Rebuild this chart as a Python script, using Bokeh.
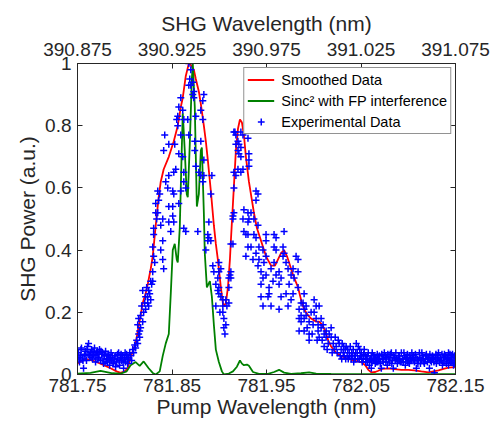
from bokeh.plotting import figure
from bokeh.models import LinearAxis, Range1d, FixedTicker, Legend, LegendItem
from bokeh.embed import file_html
from bokeh.resources import INLINE

# ---------------- data ----------------
pump_ticks = [781.75, 781.85, 781.95, 782.05, 782.15]
pump_tick_labels = ["781.75", "781.85", "781.95", "782.05", "782.15"]
shg_ticks = [390.875, 390.925, 390.975, 391.025, 391.075]
shg_tick_labels = ["390.875", "390.925", "390.975", "391.025", "391.075"]
power_ticks = [0, 0.2, 0.4, 0.6, 0.8, 1]
power_tick_labels = ["0", "0.2", "0.4", "0.6", "0.8", "1"]

# Smoothed data (red)
smooth_wl = [781.7500, 781.7542, 781.7585, 781.7659, 781.7744, 781.7850, 781.7914, 781.7956, 781.7999, 781.8031,
             781.8062, 781.8115, 781.8168, 781.8190, 781.8221, 781.8243, 781.8275, 781.8296, 781.8328, 781.8359,
             781.8381, 781.8412, 781.8466, 781.8519, 781.8561, 781.8593, 781.8614, 781.8646, 781.8678, 781.8699,
             781.8731, 781.8752, 781.8784, 781.8805, 781.8837, 781.8858, 781.8879, 781.8911, 781.8943, 781.8964,
             781.8985, 781.9017, 781.9038, 781.9049, 781.9070, 781.9092, 781.9113, 781.9123, 781.9145, 781.9176,
             781.9198, 781.9219, 781.9240, 781.9261, 781.9282, 781.9314, 781.9346, 781.9367, 781.9399, 781.9442,
             781.9495, 781.9548, 781.9590, 781.9622, 781.9654, 781.9686, 781.9717, 781.9739, 781.9781, 781.9834,
             781.9866, 781.9898, 781.9940, 781.9972, 782.0025, 782.0057, 782.0089, 782.0121, 782.0153, 782.0184,
             782.0237, 782.0290, 782.0365, 782.0428, 782.0503, 782.0545, 782.0577, 782.0609, 782.0651, 782.0683,
             782.0725, 782.0789, 782.0853, 782.0927, 782.1001, 782.1065, 782.1139, 782.1214, 782.1267, 782.1320,
             782.1373, 782.1426, 782.1500]
smooth_pw = [0.035, 0.045, 0.05, 0.045, 0.035, 0.02, 0.01, 0.005, 0.01, 0.02,
             0.055, 0.10, 0.19, 0.23, 0.26, 0.29, 0.34, 0.38, 0.48, 0.57,
             0.62, 0.66, 0.70, 0.75, 0.80, 0.86, 0.89, 0.96, 1.0, 0.995,
             0.98, 0.95, 0.91, 0.87, 0.80, 0.75, 0.69, 0.59, 0.48, 0.42,
             0.37, 0.28, 0.23, 0.22, 0.23, 0.28, 0.37, 0.43, 0.55, 0.72,
             0.79, 0.82, 0.81, 0.77, 0.70, 0.62, 0.56, 0.52, 0.47, 0.43,
             0.38, 0.35, 0.35, 0.37, 0.39, 0.40, 0.38, 0.36, 0.32, 0.28,
             0.24, 0.21, 0.19, 0.18, 0.17, 0.17, 0.16, 0.14, 0.11, 0.09,
             0.07, 0.06, 0.05, 0.045, 0.04, 0.03, 0.015, 0.007, 0.008, 0.012,
             0.018, 0.02, 0.017, 0.015, 0.015, 0.013, 0.01, 0.007, 0.01, 0.013,
             0.018, 0.022, 0.024]

# Sinc^2 with FP interference (green)
sinc_wl = [781.7500, 781.7638, 781.7744, 781.7808, 781.7871, 781.7956, 781.8020, 781.8062, 781.8115, 781.8158,
           781.8200, 781.8253, 781.8296, 781.8328, 781.8370, 781.8402, 781.8434, 781.8466, 781.8487, 781.8508,
           781.8529, 781.8550, 781.8561, 781.8582, 781.8603, 781.8614, 781.8635, 781.8656, 781.8667, 781.8688,
           781.8710, 781.8720, 781.8741, 781.8763, 781.8784, 781.8805, 781.8816, 781.8837, 781.8847, 781.8869,
           781.8901, 781.8922, 781.8943, 781.8964, 781.8996, 781.9028, 781.9049, 781.9102, 781.9145, 781.9187,
           781.9219, 781.9240, 781.9261, 781.9293, 781.9314, 781.9357, 781.9420, 781.9516, 781.9580, 781.9633,
           781.9686, 781.9760, 781.9866, 781.9951, 782.0025, 782.0184, 782.0503, 782.0927, 782.1500]
sinc_pw = [0.003, 0.005, 0.012, 0.008, 0.004, 0.003, 0.01, 0.03, 0.04, 0.028,
           0.042, 0.02, 0.005, 0.0, 0.01, 0.06, 0.10, 0.13, 0.26, 0.40,
           0.42, 0.37, 0.36, 0.47, 0.72, 0.84, 0.72, 0.58, 0.57, 0.74,
           0.95, 1.0, 0.86, 0.54, 0.58, 0.72, 0.73, 0.52, 0.39, 0.28,
           0.30, 0.25, 0.16, 0.08, 0.04, 0.01, 0.0, 0.003, 0.01, 0.025,
           0.045, 0.035, 0.03, 0.032, 0.028, 0.008, 0.002, 0.002, 0.008, 0.015,
           0.006, 0.002, 0.004, 0.007, 0.003, 0.002, 0.001, 0.001, 0.001]

# Experimental data (blue +), read region by region
exp_wl_baseline = [781.7500, 781.7511, 781.7521, 781.7532, 781.7542, 781.7553, 781.7564, 781.7574, 781.7585, 781.7595,
                   781.7606, 781.7617, 781.7627, 781.7638, 781.7649, 781.7659, 781.7670, 781.7680, 781.7691, 781.7702,
                   781.7712, 781.7723, 781.7733, 781.7744, 781.7755, 781.7765, 781.7776, 781.7786, 781.7797, 781.7808,
                   781.7818, 781.7829, 781.7840, 781.7850, 781.7861, 781.7871, 781.7882, 781.7893, 781.7903, 781.7914,
                   781.7924, 781.7935, 781.7946, 781.7956, 781.7967, 781.7977, 781.7988, 781.7999, 781.8009, 781.8020,
                   781.8031, 781.8041, 781.8052, 781.8062, 781.8073, 781.8084, 781.8094, 781.8105, 781.8115, 781.8126,
                   781.8137, 781.8147, 781.8158, 781.8168,
                   781.7516, 781.7537, 781.7558, 781.7580, 781.7601, 781.7622, 781.7643, 781.7664, 781.7686, 781.7707,
                   781.7728, 781.7749, 781.7770, 781.7792, 781.7813, 781.7834, 781.7855, 781.7877, 781.7898, 781.7919,
                   781.7940, 781.7961, 781.7983, 781.8004, 781.8025]
exp_pw_baseline = [0.05, 0.07, 0.04, 0.06, 0.085, 0.05, 0.02, 0.065, 0.075, 0.045,
                   0.09, 0.10, 0.06, 0.07, 0.08, 0.05, 0.065, 0.085, 0.04, 0.07,
                   0.075, 0.055, 0.08, 0.045, 0.065, 0.07, 0.035, 0.06, 0.075, 0.05,
                   0.04, 0.065, 0.03, 0.055, 0.045, 0.06, 0.035, 0.05, 0.025, 0.04,
                   0.065, 0.07, 0.03, 0.055, 0.045, 0.06, 0.02, 0.05, 0.04, 0.065,
                   0.035, 0.05, 0.07, 0.06, 0.045, 0.08, 0.07, 0.095, 0.085, 0.11,
                   0.10, 0.13, 0.12, 0.15,
                   0.055, 0.08, 0.045, 0.06, 0.08, 0.065, 0.055, 0.075, 0.06, 0.05,
                   0.065, 0.075, 0.05, 0.04, 0.06, 0.05, 0.07, 0.04, 0.06, 0.05,
                   0.045, 0.065, 0.04, 0.07, 0.055]

exp_wl_main = [781.8137, 781.8147, 781.8158, 781.8168, 781.8179, 781.8190, 781.8190, 781.8200, 781.8211, 781.8221,
               781.8221, 781.8232, 781.8243, 781.8243, 781.8253, 781.8253, 781.8264, 781.8275, 781.8275, 781.8285,
               781.8296, 781.8296, 781.8296, 781.8306, 781.8306, 781.8306, 781.8317, 781.8328, 781.8328, 781.8338,
               781.8349, 781.8349, 781.8359, 781.8370, 781.8381, 781.8381, 781.8402, 781.8402, 781.8402, 781.8412,
               781.8412, 781.8423, 781.8434, 781.8455, 781.8466, 781.8466, 781.8466, 781.8466, 781.8487, 781.8508,
               781.8508, 781.8508, 781.8519, 781.8519, 781.8519, 781.8529, 781.8540, 781.8550, 781.8561, 781.8561,
               781.8572, 781.8572, 781.8572, 781.8593, 781.8593, 781.8593, 781.8614, 781.8614, 781.8625, 781.8625,
               781.8625, 781.8625, 781.8646, 781.8646, 781.8667, 781.8678, 781.8678, 781.8678, 781.8688, 781.8699,
               781.8699, 781.8720, 781.8720, 781.8731, 781.8731, 781.8741, 781.8741, 781.8752, 781.8752, 781.8773,
               781.8784, 781.8805, 781.8805, 781.8805, 781.8826, 781.8826, 781.8826, 781.8837, 781.8837, 781.8837,
               781.8858, 781.8879, 781.8879, 781.8890, 781.8890, 781.8911, 781.8911, 781.8922, 781.8932, 781.8943,
               781.8964, 781.8964, 781.8985, 781.8985, 781.8996, 781.8996, 781.8996, 781.8996, 781.9007, 781.9017,
               781.9017, 781.9038, 781.9038, 781.9038, 781.9049, 781.9049, 781.9060, 781.9070, 781.9070, 781.9081,
               781.9102, 781.9102, 781.9102, 781.9113]
exp_pw_main = [0.16, 0.18, 0.14, 0.19, 0.22, 0.17, 0.27, 0.20, 0.23, 0.25,
               0.21, 0.28, 0.23, 0.25, 0.22, 0.27, 0.26, 0.24, 0.30, 0.29,
               0.33, 0.30, 0.41, 0.38, 0.45, 0.47, 0.36, 0.52, 0.55, 0.50,
               0.52, 0.59, 0.56, 0.58, 0.40, 0.48, 0.50, 0.43, 0.37, 0.34,
               0.72, 0.77, 0.62, 0.60, 0.64, 0.74, 0.54, 0.49, 0.46, 0.54,
               0.51, 0.59, 0.58, 0.65, 0.49, 0.74, 0.66, 0.82, 0.83, 0.80,
               0.86, 0.71, 0.55, 0.89, 0.77, 0.59, 0.85, 0.70, 0.82, 0.65,
               0.62, 0.47, 0.46, 0.60, 0.82, 0.93, 0.77, 1.0, 0.95, 0.98,
               0.93, 0.94, 0.90, 0.91, 0.89, 0.75, 0.72, 0.83, 0.67, 0.46,
               0.65, 0.85, 0.75, 0.64, 0.88, 0.82, 0.62, 0.90, 0.69, 0.64,
               0.40, 0.45, 0.43, 0.49, 0.44, 0.58, 0.43, 0.64, 0.35, 0.33,
               0.22, 0.29, 0.31, 0.27, 0.36, 0.28, 0.33, 0.26, 0.20, 0.34,
               0.25, 0.24, 0.22, 0.20, 0.18, 0.15, 0.13, 0.24, 0.16, 0.22,
               0.28, 0.23, 0.31, 0.32]

exp_wl_second = [781.9123, 781.9123, 781.9123, 781.9145, 781.9145, 781.9145, 781.9155, 781.9155, 781.9155, 781.9155,
                 781.9166, 781.9176, 781.9176, 781.9176, 781.9198, 781.9198, 781.9198, 781.9208, 781.9208, 781.9229,
                 781.9229, 781.9229, 781.9229, 781.9251, 781.9251, 781.9251, 781.9261, 781.9261, 781.9282, 781.9282,
                 781.9304, 781.9304, 781.9304, 781.9304, 781.9304, 781.9314, 781.9314, 781.9314, 781.9314, 781.9336,
                 781.9336, 781.9357, 781.9367, 781.9367, 781.9389, 781.9389, 781.9389, 781.9389, 781.9410, 781.9410,
                 781.9410, 781.9420, 781.9420, 781.9442, 781.9442, 781.9442, 781.9463, 781.9463, 781.9463, 781.9473,
                 781.9495, 781.9495, 781.9495, 781.9495, 781.9516, 781.9527, 781.9527, 781.9548, 781.9548, 781.9569,
                 781.9580, 781.9580, 781.9580, 781.9601, 781.9601, 781.9601, 781.9633, 781.9633, 781.9633, 781.9654,
                 781.9654, 781.9675, 781.9675, 781.9686, 781.9686, 781.9707, 781.9707, 781.9728, 781.9728, 781.9739,
                 781.9760, 781.9760, 781.9781, 781.9781, 781.9792, 781.9813, 781.9834, 781.9834, 781.9834, 781.9845,
                 781.9845, 781.9845, 781.9866, 781.9866, 781.9866]
exp_pw_second = [0.31, 0.42, 0.33, 0.42, 0.51, 0.50, 0.52, 0.60, 0.65, 0.78,
                 0.78, 0.77, 0.74, 0.64, 0.75, 0.72, 0.66, 0.74, 0.71, 0.78,
                 0.73, 0.70, 0.65, 0.77, 0.66, 0.50, 0.53, 0.46, 0.45, 0.38,
                 0.76, 0.52, 0.49, 0.45, 0.41, 0.71, 0.69, 0.67, 0.50, 0.52,
                 0.41, 0.37, 0.50, 0.45, 0.59, 0.56, 0.44, 0.39, 0.58, 0.48,
                 0.35, 0.41, 0.37, 0.33, 0.29, 0.25, 0.40, 0.31, 0.22, 0.36,
                 0.45, 0.43, 0.38, 0.32, 0.25, 0.28, 0.26, 0.34, 0.22, 0.30,
                 0.45, 0.41, 0.36, 0.44, 0.40, 0.32, 0.33, 0.29, 0.21, 0.31,
                 0.25, 0.41, 0.38, 0.46, 0.39, 0.36, 0.26, 0.34, 0.22, 0.29,
                 0.32, 0.24, 0.34, 0.26, 0.31, 0.38, 0.37, 0.33, 0.28, 0.21,
                 0.18, 0.14, 0.19, 0.17, 0.23]

exp_wl_tail = [781.9887, 781.9898, 781.9898, 781.9898, 781.9898, 781.9919, 781.9919, 781.9930, 781.9951, 781.9951,
               781.9951, 781.9972, 781.9983, 781.9993, 782.0004, 782.0004, 782.0025, 782.0025, 782.0036, 782.0046,
               782.0046, 782.0057, 782.0057, 782.0078, 782.0078, 782.0089, 782.0099, 782.0110, 782.0110, 782.0131,
               782.0131, 782.0142, 782.0153, 782.0163, 782.0184, 782.0184, 782.0195, 782.0206, 782.0216, 782.0227,
               782.0237, 782.0248, 782.0259, 782.0269, 782.0280, 782.0290, 782.0301, 782.0312, 782.0322, 782.0333,
               782.0343, 782.0354, 782.0365, 782.0375, 782.0386, 782.0397, 782.0407, 782.0418, 782.0428, 782.0439,
               782.0450, 782.0460, 782.0471, 782.0481, 782.0492, 782.0503, 782.0513, 782.0524, 782.0534, 782.0545,
               782.0556, 782.0566, 782.0577, 782.0588, 782.0598, 782.0609, 782.0609, 782.0619, 782.0630, 782.0641,
               782.0651, 782.0662, 782.0672, 782.0683, 782.0694, 782.0704, 782.0715, 782.0725, 782.0736, 782.0747,
               782.0757, 782.0768, 782.0778, 782.0789, 782.0800, 782.0810, 782.0821, 782.0832, 782.0842, 782.0853,
               782.0863, 782.0874, 782.0885, 782.0895, 782.0906, 782.0916, 782.0927, 782.0938, 782.0948, 782.0959,
               782.0969, 782.0980, 782.0991, 782.1001, 782.1012, 782.1023, 782.1033, 782.1044, 782.1054, 782.1065,
               782.1076, 782.1086, 782.1097, 782.1107, 782.1118, 782.1129, 782.1139, 782.1150, 782.1160, 782.1171,
               782.1182, 782.1192, 782.1203, 782.1214, 782.1224, 782.1235, 782.1245, 782.1256, 782.1267, 782.1277,
               782.1288, 782.1298, 782.1309, 782.1320, 782.1330, 782.1341, 782.1351, 782.1362, 782.1373, 782.1383,
               782.1394, 782.1404, 782.1415, 782.1426, 782.1426, 782.1436, 782.1447, 782.1458, 782.1458, 782.1468,
               782.1479, 782.1489, 782.1489, 782.1500,
               782.0296, 782.0317, 782.0338, 782.0359, 782.0381, 782.0402, 782.0423, 782.0444, 782.0466, 782.0487,
               782.0508, 782.0529, 782.0550, 782.0572, 782.0593, 782.0614, 782.0635, 782.0656, 782.0678, 782.0699,
               782.0720, 782.0741, 782.0763, 782.0784, 782.0805, 782.0826, 782.0848, 782.0869, 782.0890, 782.0911,
               782.0932, 782.0954, 782.0975, 782.0996, 782.1017, 782.1038, 782.1060, 782.1081, 782.1102, 782.1123,
               782.1144, 782.1166, 782.1187, 782.1208, 782.1229, 782.1251, 782.1272, 782.1293, 782.1314, 782.1336,
               782.1357, 782.1378, 782.1399, 782.1420, 782.1442, 782.1463, 782.1484]
exp_pw_tail = [0.23, 0.18, 0.26, 0.21, 0.14, 0.22, 0.19, 0.15, 0.17, 0.13,
               0.11, 0.20, 0.13, 0.16, 0.24, 0.20, 0.22, 0.18, 0.11, 0.16,
               0.14, 0.22, 0.12, 0.18, 0.15, 0.11, 0.16, 0.13, 0.09, 0.12,
               0.14, 0.08, 0.10, 0.13, 0.15, 0.12, 0.07, 0.10, 0.08, 0.12,
               0.09, 0.07, 0.11, 0.10, 0.06, 0.08, 0.10, 0.07, 0.06, 0.08,
               0.09, 0.06, 0.05, 0.07, 0.09, 0.05, 0.06, 0.08, 0.06, 0.05,
               0.10, 0.07, 0.09, 0.05, 0.06, 0.07, 0.04, 0.05, 0.08, 0.06,
               0.05, 0.04, 0.07, 0.03, 0.05, 0.06, 0.02, 0.07, 0.045, 0.05,
               0.035, 0.04, 0.065, 0.05, 0.06, 0.035, 0.02, 0.05, 0.04, 0.07,
               0.06, 0.055, 0.03, 0.05, 0.04, 0.065, 0.07, 0.045, 0.02, 0.055,
               0.045, 0.05, 0.035, 0.06, 0.06, 0.04, 0.07, 0.05, 0.04, 0.06,
               0.03, 0.055, 0.065, 0.045, 0.035, 0.05, 0.045, 0.055, 0.06, 0.04,
               0.065, 0.02, 0.05, 0.045, 0.07, 0.035, 0.045, 0.06, 0.05, 0.035,
               0.05, 0.065, 0.04, 0.055, 0.02, 0.045, 0.04, 0.06, 0.055, 0.006,
               0.05, 0.035, 0.05, 0.07, 0.04, 0.055, 0.045, 0.03, 0.055, 0.065,
               0.06, 0.035, 0.05, 0.07, 0.03, 0.045, 0.04, 0.05, 0.06, 0.065,
               0.03, 0.06, 0.035, 0.045,
               0.05, 0.09, 0.05, 0.08, 0.06, 0.07, 0.04, 0.07, 0.05, 0.08,
               0.05, 0.065, 0.04, 0.06, 0.045, 0.04, 0.06, 0.055, 0.04, 0.05,
               0.065, 0.05, 0.04, 0.065, 0.055, 0.035, 0.06, 0.07, 0.045, 0.05,
               0.04, 0.07, 0.05, 0.04, 0.06, 0.07, 0.045, 0.055, 0.035, 0.055,
               0.07, 0.04, 0.06, 0.05, 0.065, 0.05, 0.04, 0.065, 0.06, 0.045,
               0.065, 0.04, 0.05, 0.055, 0.065, 0.04, 0.055]

for a, b in [(smooth_wl, smooth_pw), (sinc_wl, sinc_pw), (exp_wl_baseline, exp_pw_baseline),
             (exp_wl_main, exp_pw_main), (exp_wl_second, exp_pw_second), (exp_wl_tail, exp_pw_tail)]:
    assert len(a) == len(b), (len(a), len(b))

exp_wl = exp_wl_baseline + exp_wl_main + exp_wl_second + exp_wl_tail
exp_pw = exp_pw_baseline + exp_pw_main + exp_pw_second + exp_pw_tail

# ---------------- figure ----------------
FONT = "Liberation Sans"
TXT = "#262626"

p = figure(width=490, height=423,
           x_range=Range1d(781.75, 782.15), y_range=Range1d(0, 1),
           output_backend="svg", toolbar_location=None,
           min_border_left=77, min_border_right=35, min_border_top=63, min_border_bottom=49)
p.extra_x_ranges = {"shg": Range1d(shg_ticks[0], shg_ticks[-1])}
p.xgrid.visible = False
p.ygrid.visible = False
p.outline_line_color = TXT
p.outline_line_width = 1
p.background_fill_color = "white"
p.border_fill_color = "white"


def style_axis(ax, tick_font_size, label_font_size, label_standoff, axis_label_standoff):
    ax.major_tick_in = 5
    ax.major_tick_out = 0
    ax.minor_tick_line_color = None
    ax.major_tick_line_color = TXT
    ax.axis_line_color = TXT
    ax.major_label_text_font = FONT
    ax.major_label_text_font_size = tick_font_size
    ax.major_label_text_color = TXT
    ax.major_label_standoff = label_standoff
    ax.axis_label_text_font = FONT
    ax.axis_label_text_font_size = label_font_size
    ax.axis_label_text_font_style = "normal"
    ax.axis_label_text_color = TXT
    ax.axis_label_standoff = axis_label_standoff


xb = p.xaxis[0]
xb.ticker = FixedTicker(ticks=pump_ticks)
xb.major_label_overrides = dict(zip(pump_ticks, pump_tick_labels))
xb.axis_label = "Pump Wavelength (nm)"
style_axis(xb, "19px", "21px", 4, 0)

yl = p.yaxis[0]
yl.ticker = FixedTicker(ticks=power_ticks)
yl.major_label_overrides = dict(zip(power_ticks, power_tick_labels))
yl.axis_label = "SHG Power (a.u.)"
style_axis(yl, "19px", "21px", 6, 3)

xt = LinearAxis(x_range_name="shg", ticker=FixedTicker(ticks=shg_ticks),
                major_label_overrides=dict(zip(shg_ticks, shg_tick_labels)),
                axis_label="SHG Wavelength (nm)")
style_axis(xt, "19px", "21px", 8, 5)
p.add_layout(xt, "above")

yr = LinearAxis(ticker=FixedTicker(ticks=power_ticks))
style_axis(yr, "0px", "0px", 0, 0)
yr.major_label_text_alpha = 0
p.add_layout(yr, "right")

r_smooth = p.line(smooth_wl, smooth_pw, line_color="#ff0000", line_width=1.8)
r_sinc = p.line(sinc_wl, sinc_pw, line_color="#008000", line_width=1.8)
r_exp = p.scatter(exp_wl, exp_pw, marker="cross", size=7, line_color="#0000ff", line_width=1.5)

legend = Legend(items=[LegendItem(label="Smoothed Data", renderers=[r_smooth]),
                       LegendItem(label="Sinc\u00b2 with FP interference", renderers=[r_sinc]),
                       LegendItem(label="Experimental Data", renderers=[r_exp])],
                location="top_right", margin=4, padding=3, spacing=4,
                label_height=17, glyph_height=17, glyph_width=27, label_standoff=7,
                label_text_font=FONT, label_text_font_size="14.5px", label_text_color="#000000",
                border_line_color=TXT, border_line_width=1,
                background_fill_color="white", background_fill_alpha=1)
p.add_layout(legend)

open("out.html", "w").write(file_html(p, INLINE, title="SHG chart"))
